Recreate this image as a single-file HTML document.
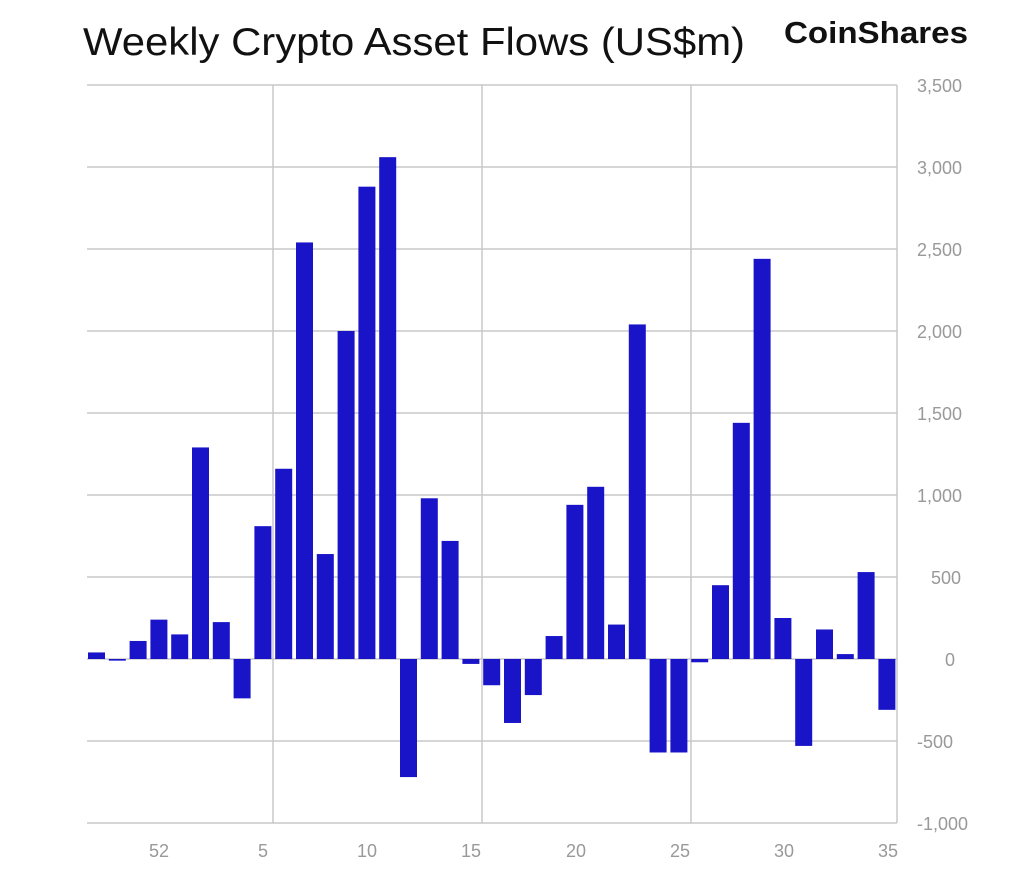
<!DOCTYPE html>
<html><head><meta charset="utf-8"><style>
body{margin:0;background:#fff;width:1024px;height:869px;overflow:hidden}
svg{display:block}
text{font-family:"Liberation Sans",sans-serif}
</style></head><body>
<svg id="c" width="1024" height="869" xmlns="http://www.w3.org/2000/svg">
<rect width="1024" height="869" fill="#fff"/>
<text x="83" y="55" font-size="39" fill="#111" textLength="662" lengthAdjust="spacingAndGlyphs">Weekly Crypto Asset Flows (US$m)</text>
<text x="784" y="43" font-size="31" font-weight="bold" fill="#111" textLength="184" lengthAdjust="spacingAndGlyphs">CoinShares</text>
<g id="grid" stroke="#c8c8c8" stroke-width="1.5" fill="none"></g>
<g id="bars" fill="#1a14c8"></g>
<g font-size="18" fill="#999">
<text x="917" y="92">3,500</text>
<text x="917" y="174">3,000</text>
<text x="917" y="256">2,500</text>
<text x="917" y="338">2,000</text>
<text x="917" y="420">1,500</text>
<text x="917" y="502">1,000</text>
<text x="931" y="584">500</text>
<text x="945" y="666">0</text>
<text x="917" y="748">-500</text>
<text x="917" y="830">-1,000</text>
</g>
<g font-size="18" fill="#999" text-anchor="middle">
<text x="159" y="857">52</text>
<text x="263" y="857">5</text>
<text x="367" y="857">10</text>
<text x="471" y="857">15</text>
<text x="576" y="857">20</text>
<text x="680" y="857">25</text>
<text x="784" y="857">30</text>
<text x="888" y="857">35</text>
</g>
</svg>
<script>
var ns="http://www.w3.org/2000/svg";
function y(v){return 659-v*82/500;}
var g=document.getElementById('grid');
function line(x1,y1,x2,y2){var l=document.createElementNS(ns,'line');l.setAttribute('x1',x1);l.setAttribute('y1',y1);l.setAttribute('x2',x2);l.setAttribute('y2',y2);g.appendChild(l);}
for(var v=-1000;v<=3500;v+=500){line(87,y(v),897,y(v));}
[273,482,691,897].forEach(function(x){line(x,85,x,823);});
var d=[40,-10,110,240,150,1290,225,-240,810,1160,2540,640,2000,2880,3060,-720,980,720,-30,-160,-390,-220,140,940,1050,210,2040,-570,-570,-20,450,1440,2440,250,-530,180,30,530,-310];
var b=document.getElementById('bars');
d.forEach(function(v,i){var r=document.createElementNS(ns,'rect');var x=88+i*20.8;var t=Math.min(y(v),659),h=Math.abs(y(v)-659);r.setAttribute('x',x);r.setAttribute('y',t);r.setAttribute('width',17);r.setAttribute('height',Math.max(h,1.5));b.appendChild(r);});
</script>
</body></html>
